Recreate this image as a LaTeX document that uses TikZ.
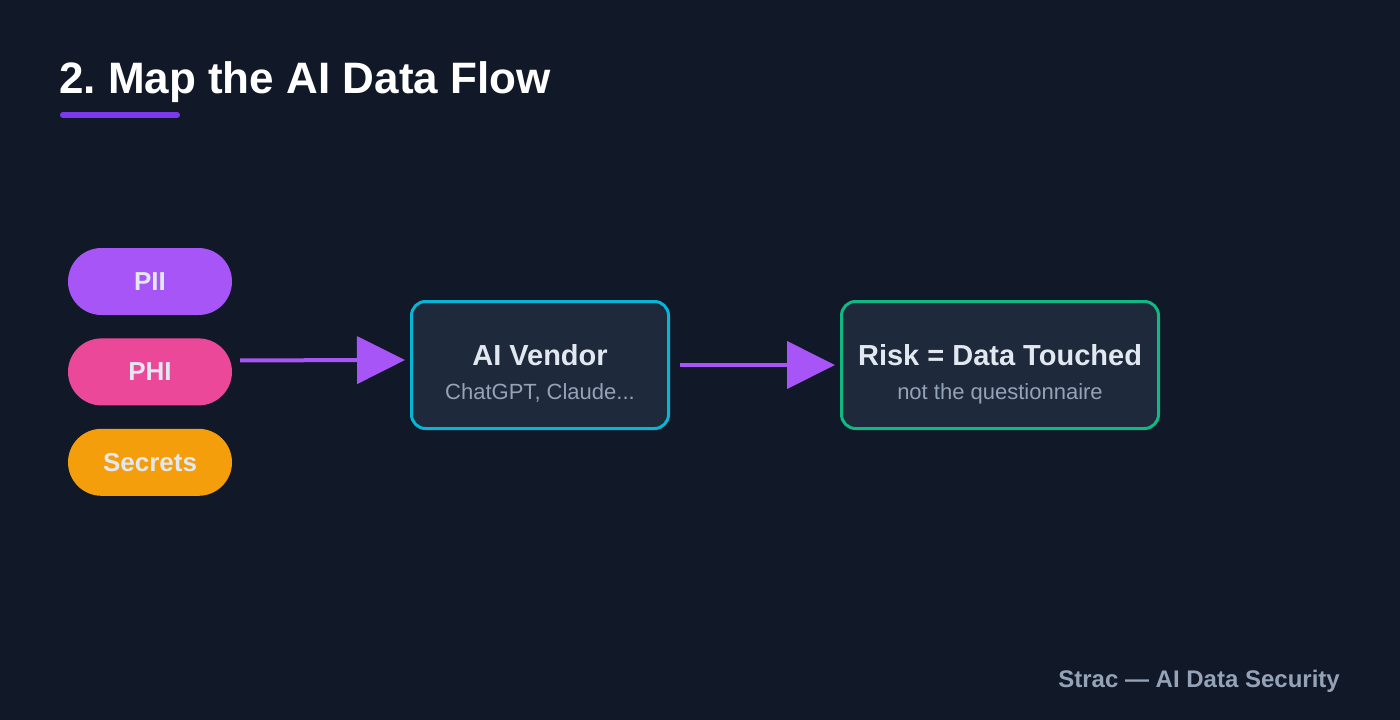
\documentclass[tikz,border=0pt]{standalone}
\usepackage{fontspec}
\setmainfont{Liberation Sans}
\usetikzlibrary{positioning, arrows.meta, calc}
\definecolor{bgNavy}{HTML}{111827}
\definecolor{cardFill}{HTML}{1E293B}
\definecolor{piiPurple}{HTML}{A855F7}
\definecolor{phiPink}{HTML}{EC4899}
\definecolor{secretAmber}{HTML}{F59E0B}
\definecolor{vendorCyan}{HTML}{06B6D4}
\definecolor{riskGreen}{HTML}{10B981}
\definecolor{barViolet}{HTML}{7C3AED}
\definecolor{lightText}{HTML}{E2E8F0}
\definecolor{mutedText}{HTML}{94A3B8}
\frenchspacing
\newcommand{\pillGap}{23pt}
\newcommand{\cardGap}{170pt}
\newcommand{\noteDrop}{34}
\tikzstyle{pill}=[rounded corners=33.5pt, minimum width=164pt, minimum height=67pt, inner sep=0pt, text=lightText, font=\fontsize{26}{30}\selectfont\bfseries]
\tikzstyle{card}=[draw, line width=3pt, rounded corners=14pt, fill=cardFill, minimum width=257pt, minimum height=127pt]
\tikzstyle{cardTitle}=[anchor=base, inner sep=0pt, text=lightText, font=\fontsize{29}{33}\selectfont\bfseries]
\tikzstyle{cardNote}=[anchor=base, inner sep=0pt, text=mutedText, font=\fontsize{22}{26}\selectfont]
\tikzstyle{arrow}=[-{Triangle[length=48pt, width=47pt]}, line width=4pt, draw=piiPurple]

\begin{document}
\begin{tikzpicture}[x=1pt, y=-1pt]
  \useasboundingbox (0,0) rectangle (1400,720);
  \fill[bgNavy] (0,0) rectangle (1400,720);
  % heading
  \node[anchor=base west, inner sep=0pt, text=white, font=\fontsize{44}{50}\selectfont\bfseries] (heading) at (59,93) {2. Map the AI Data Flow};
  \draw[barViolet, line width=6pt, line cap=round] (63,115) -- (177,115);
  % data kinds
  \node[pill, fill=piiPurple] (pii) at (150,281.5) {PII};
  \node[pill, fill=phiPink, below=\pillGap of pii] (phi) {PHI};
  \node[pill, fill=secretAmber, below=\pillGap of phi] (secrets) {Secrets};
  % cards
  \node[card, draw=vendorCyan] (vendor) at (540,365) {};
  \node[card, draw=riskGreen, minimum width=317pt, right=\cardGap of vendor] (risk) {};
  \node[cardTitle] (vendorTitle) at (vendor.center) {AI Vendor};
  \node[cardNote] (vendorNote) at ($(vendor.center)+(0,\noteDrop)$) {ChatGPT, Claude...};
  \node[cardTitle] (riskTitle) at (risk.center) {Risk = Data Touched};
  \node[cardNote] (riskNote) at ($(risk.center)+(0,\noteDrop)$) {not the questionnaire};
  % flow
  \draw[arrow] ([xshift=8pt, yshift=11.5pt]phi.east) -- ([xshift=-5pt, yshift=5pt]vendor.west);
  \draw[arrow] ([xshift=10pt]vendor.east) -- ([xshift=-5pt]risk.west);
  % footer
  \node[anchor=base east, inner sep=0pt, text=mutedText, font=\fontsize{24}{28}\selectfont\bfseries] (footer) at (1340,687) {Strac — AI Data Security};
\end{tikzpicture}
\end{document}
